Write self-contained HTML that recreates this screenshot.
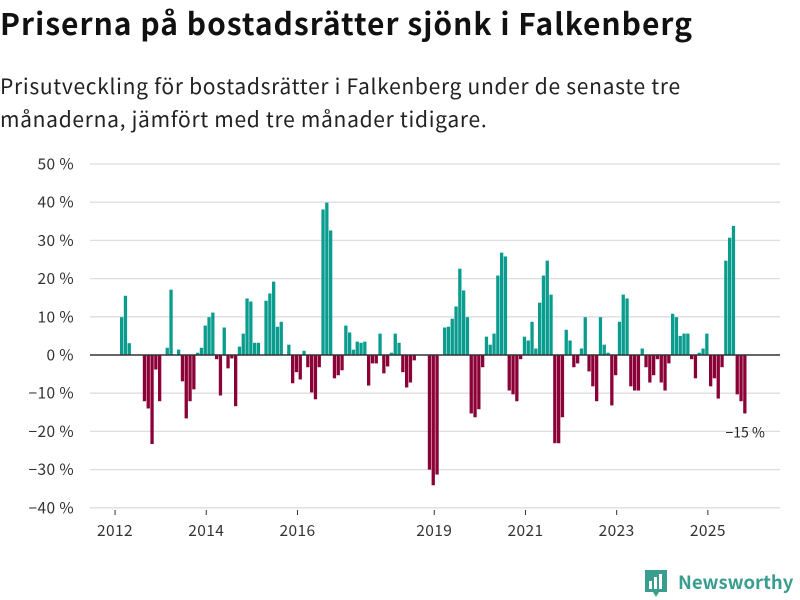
<!DOCTYPE html>
<html><head><meta charset="utf-8">
<style>
html,body{margin:0;padding:0;background:#fff;width:800px;height:600px;overflow:hidden;font-family:"Noto Sans CJK SC","Liberation Sans",sans-serif;}
h1{position:absolute;left:0;top:1px;margin:0;font-size:30px;line-height:42px;font-weight:bold;color:#111;white-space:nowrap;letter-spacing:1px;}
.sub{position:absolute;left:0;top:70px;margin:0;font-size:21px;line-height:33px;color:#222;width:760px;letter-spacing:0.7px;}
</style></head><body>
<h1>Priserna på bostadsrätter sjönk i Falkenberg</h1>
<p class="sub">Prisutveckling för bostadsrätter i Falkenberg under de senaste tre<br>månaderna, jämfört med tre månader tidigare.</p>
<svg id="chart" width="800" height="600" style="position:absolute;left:0;top:0" xmlns="http://www.w3.org/2000/svg"></svg>
<script>
const values = [9.9,15.5,3.1,0,0,0,-12.1,-14,-23.3,-3.8,-12.1,0,1.9,17.1,0,1.4,-6.9,-16.6,-12.1,-9,
0.6,1.9,7.7,9.9,11.1,-1.1,-10.6,7.2,-3.5,-0.9,-13.4,2.2,5.6,14.8,14,3.2,3.2,0,14.2,16.1,
19.2,7.4,8.7,0,2.7,-7.4,-4.5,-6.4,1.1,-3.2,-9.8,-11.6,-3.2,38.1,39.9,32.6,-6.1,-5.3,-4.0,7.7,
5.9,1.4,3.5,3.2,3.5,-8,-2.2,-2.2,5.6,-4.8,-3,0.6,5.6,3.2,-4.5,-8.5,-7.2,-1.4,0,0,
0,-30,-34.1,-31.3,0,7.2,7.4,9.5,12.7,22.6,16.9,9.9,-15.3,-16.3,-14.2,-3.2,4.8,2.7,5.6,20.8,
26.8,25.8,-9.3,-10.3,-12.1,-1.1,4.8,3.8,8.7,1.7,13.7,20.8,24.7,15.8,-23.1,-23.1,-16.3,6.6,3.8,-3.2,
-2.2,1.7,9.9,-4.3,-8.2,-12.1,9.9,2.7,0.6,-13.2,-5.3,8.7,15.8,14.8,-8.2,-9.3,-9.3,1.7,-3.2,-7.2,
-5.3,-1.1,-7.2,-9.3,-2.2,10.8,9.9,5.0,5.6,5.6,-1.1,-6.1,0.6,1.7,5.6,-8.2,-6.1,-11.4,-3.2,24.7,
30.7,33.8,-10.3,-12.1,-15.3];
const yTicks = [50,40,30,20,10,0,-10,-20,-30,-40];
const yearLabels = ["2012","2014","2016","2019","2021","2023","2025"];
const yearValues = [2012,2014,2016,2019,2021,2023,2025];
const lastLabel = "\u221215 %";

const FONT = 'Noto Sans CJK SC, Liberation Sans, sans-serif';
const svg = document.getElementById('chart');
const NS = 'http://www.w3.org/2000/svg';
const X0 = 120, STEP = 3.8, BW = 3.3;
const xBand = k => X0 + STEP * k;
const yScale = v => 355 - v * 3.82;
const yearX = y => xBand((y - 2012) * 12 - 1.8) + STEP / 2;
function mk(tag, attrs){const e=document.createElementNS(NS,tag);for(const a in attrs)e.setAttribute(a,attrs[a]);svg.appendChild(e);return e;}

yTicks.forEach(t=>{
  if(t!==0){const g=mk('line',{x1:90,x2:780,y1:yScale(t),y2:yScale(t),stroke:'#dedede','stroke-width':1.3});
  
  }
  const tx=mk('text',{x:74,y:yScale(t)+5.5,'text-anchor':'end','font-size':15.5,fill:'#333','font-family':FONT,'letter-spacing':0.4});
  tx.textContent=(t<0?'\u2212'+(-t):t)+' %';
  
  
});
yearValues.forEach((y,i)=>{
  const x=yearX(y);
  const tk=mk('line',{x1:x,x2:x,y1:510,y2:515,stroke:'#333','stroke-width':1});
  
  
  const tx=mk('text',{x:x,y:536,'text-anchor':'middle','font-size':15.5,fill:'#333','font-family':FONT,'letter-spacing':0.4});
  tx.textContent=yearLabels[i];
  
  
});
values.forEach((v,k)=>{
  if(v===0)return;
  const y0=yScale(0), y1=yScale(v);
  const r=mk('rect',{x:xBand(k),y:Math.min(y0,y1),width:BW,height:Math.abs(y1-y0),fill:v>0?'#0a9d8f':'#8b0037'});
  
  
});
const zl=mk('line',{x1:90,x2:780,y1:yScale(0),y2:yScale(0),stroke:'#333','stroke-width':1.5});


const last=values.length-1;
const ll=mk('text',{x:xBand(last)+2,y:yScale(values[last])+24,'text-anchor':'middle','font-size':14,fill:'#222','font-family':FONT});
ll.textContent=lastLabel;


</script>
<svg width="160" height="34" style="position:absolute;left:642px;top:566px" xmlns="http://www.w3.org/2000/svg">
<path d="M3 4h22v22h-8l-3 5-3-5h-8z" fill="#3a9e8f"/>
<rect x="7" y="15" width="3" height="8" fill="#fff"/><rect x="12" y="11" width="3" height="12" fill="#fff"/><rect x="17" y="8" width="3" height="15" fill="#fff"/>
<text x="36" y="23" font-size="18.5" font-weight="bold" fill="#3a9e8f" font-family="Noto Sans CJK SC, Liberation Sans, sans-serif">Newsworthy</text>
</svg>
</body></html>
